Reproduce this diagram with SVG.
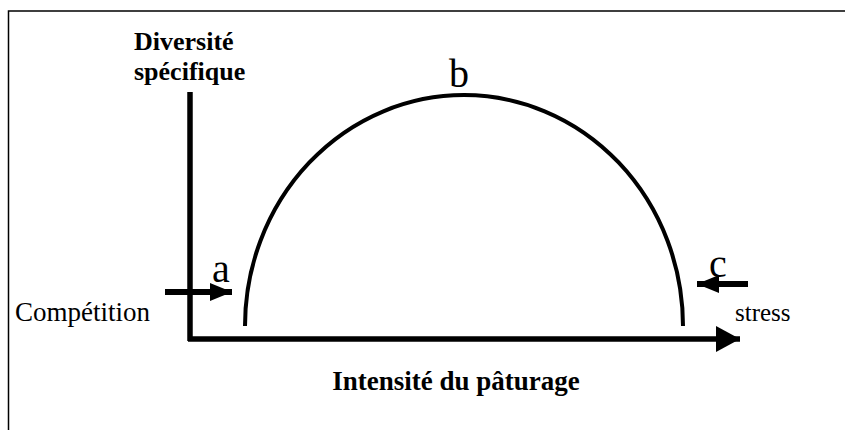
<svg xmlns="http://www.w3.org/2000/svg" width="845" height="430" viewBox="0 0 845 430">
<style>
text{font-family:"Liberation Serif","Times New Roman","DejaVu Serif",serif;fill:#000}
.b{font-weight:bold}
</style>
<defs>
<marker id="ah" markerWidth="24" markerHeight="26" refX="24" refY="13" orient="auto" markerUnits="userSpaceOnUse">
<path d="M0,0 L24,13 L0,26 Z" fill="#000"/>
</marker>
<marker id="ahs" markerWidth="22" markerHeight="18" refX="22" refY="9" orient="auto" markerUnits="userSpaceOnUse">
<path d="M0,0 L22,9 L0,18 Z" fill="#000"/>
</marker>
</defs>
<rect x="8.5" y="11" width="840" height="425" fill="#fff" stroke="#000" stroke-width="1.5"/>
<g id="connectors">
<line x1="190" y1="92" x2="190" y2="341" stroke="#000" stroke-width="5.5"/>
<line x1="188" y1="339" x2="740" y2="339" stroke="#000" stroke-width="5.5" marker-end="url(#ah)"/>
<path d="M245,326 A219,231 0 0 1 683,326" fill="none" stroke="#000" stroke-width="4"/>
<line x1="165" y1="292" x2="232" y2="292" stroke="#000" stroke-width="6" marker-end="url(#ahs)"/>
<line x1="748" y1="284" x2="697" y2="284" stroke="#000" stroke-width="6" marker-end="url(#ahs)"/>
</g>
<g font-family="Liberation Serif, Times New Roman, serif">
<g id="ylabel"><text class="b" x="134" y="50" font-size="26">Diversité</text><text class="b" x="134" y="80" font-size="26">spécifique</text></g>
<g id="xlabel"><text class="b" x="456" y="390" font-size="27" text-anchor="middle">Intensité du pâturage</text></g>
<g id="a"><text x="212" y="282" font-size="40">a</text></g>
<g id="b"><text x="449" y="87" font-size="40">b</text></g>
<g id="c"><text x="709" y="277" font-size="40">c</text></g>
<g id="competition"><text x="15" y="321" font-size="27">Compétition</text></g>
<g id="stress"><text x="735" y="321" font-size="25">stress</text></g>
</g>
</svg>
